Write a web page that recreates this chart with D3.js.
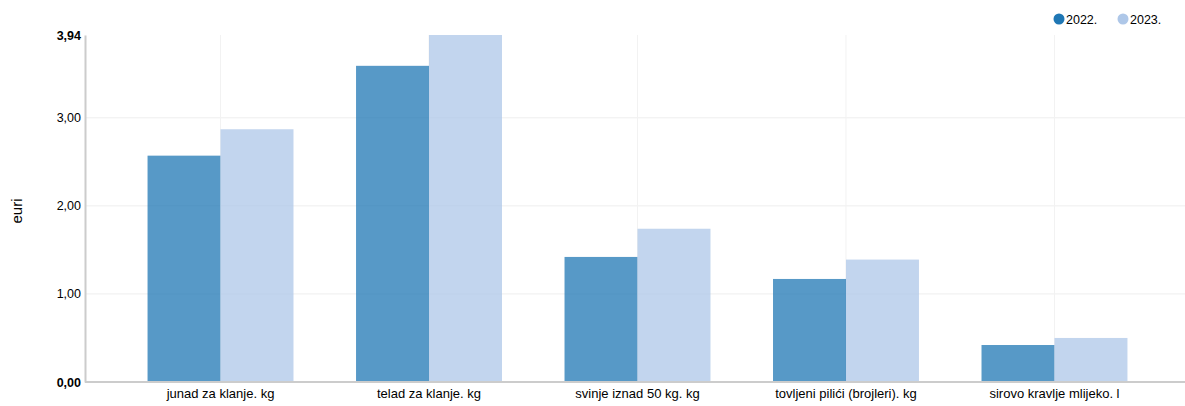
<!DOCTYPE html>
<html>
<head>
<meta charset="utf-8">
<script src="https://cdn.jsdelivr.net/npm/d3@7"></script>
<style>
  body { margin: 0; background: #fff; }
  svg { font-family: "Liberation Sans", Arial, sans-serif; display: block; }
</style>
</head>
<body>
<svg id="chart" width="1185" height="406"></svg>
<script>
const categories = ["junad za klanje. kg", "telad za klanje. kg", "svinje iznad 50 kg. kg", "tovljeni pilići (brojleri). kg", "sirovo kravlje mlijeko. l"];
const seriesNames = ["2022.", "2023."];
const values2022 = [2.57, 3.59, 1.42, 1.17, 0.42];
const values2023 = [2.87, 3.94, 1.74, 1.39, 0.50];
const yTicks = [0, 1, 2, 3, 3.94];
const yLabel = "euri";
const colors = ["#1f77b4", "#aec7e8"];

(function () {
const svg = d3.select("#chart");
const mLeft = 85, mTop = 35, mBottom = 382, mRight = 1190;

const x = d3.scaleBand().domain(categories).range([mLeft, mRight]).paddingInner(0.3).paddingOuter(0.3);
const xs = d3.scaleBand().domain(seriesNames).range([0, x.bandwidth()]);
const y = d3.scaleLinear().domain([0, 3.94]).range([mBottom, mTop]);

const fmt = v => d3.format(".2f")(v).replace(".", ",");

// horizontal grid
svg.append("g").selectAll("line").data(yTicks.filter(t => t > 0 && t < 3.94)).join("line")
  .attr("x1", mLeft).attr("x2", 1185)
  .attr("y1", d => y(d)).attr("y2", d => y(d))
  .attr("stroke", "#eeeeee");
// vertical grid
svg.append("g").selectAll("line").data(categories).join("line")
  .attr("x1", d => x(d) + x.bandwidth() / 2).attr("x2", d => x(d) + x.bandwidth() / 2)
  .attr("y1", mTop).attr("y2", mBottom)
  .attr("stroke", "#f2f2f2");

// bars
const series = [values2022, values2023];
series.forEach((vals, si) => {
  svg.append("g").selectAll("rect").data(categories).join("rect")
    .attr("x", d => x(d) + xs(seriesNames[si]))
    .attr("width", xs.bandwidth())
    .attr("y", (d, i) => y(vals[i]))
    .attr("height", (d, i) => mBottom - y(vals[i]))
    .attr("fill", colors[si]).attr("fill-opacity", 0.75);
});

// y axis
const yAxis = d3.axisLeft(y).tickValues(yTicks).tickFormat(fmt).tickSize(0).tickPadding(4);
const gy = svg.append("g").attr("transform", `translate(${mLeft},0)`).call(yAxis);
gy.select(".domain").attr("stroke", "#ccc").attr("stroke-width", 2);
gy.selectAll("text").attr("font-size", 12.5).attr("fill", "#000")
  .attr("font-family", "Liberation Sans, Arial, sans-serif")
  .attr("font-weight", d => (d === 0 || d === 3.94) ? "bold" : "normal");

// x axis
const xAxis = d3.axisBottom(x).tickSize(0).tickPadding(7);
const gx = svg.append("g").attr("transform", `translate(0,${mBottom})`).call(xAxis);
gx.select(".domain").attr("d", `M${mLeft},0H1185`).attr("stroke", "#ccc").attr("stroke-width", 2);
gx.selectAll("text").attr("font-size", 13).attr("fill", "#000")
  .attr("font-family", "Liberation Sans, Arial, sans-serif");

// y label
svg.append("text").attr("transform", "translate(22,211) rotate(-90)")
  .attr("text-anchor", "middle").attr("font-size", 15).attr("fill", "#000").text(yLabel);

// legend
const legendX = [1059, 1123];
seriesNames.forEach((s, i) => {
  const g = svg.append("g").attr("transform", `translate(${legendX[i]},19)`);
  g.append("circle").attr("r", 5.5).attr("fill", colors[i]);
  g.append("text").attr("x", 7).attr("y", 4.5).attr("font-size", 12.5).attr("fill", "#000").text(s);
});
})();
</script>
</body>
</html>
